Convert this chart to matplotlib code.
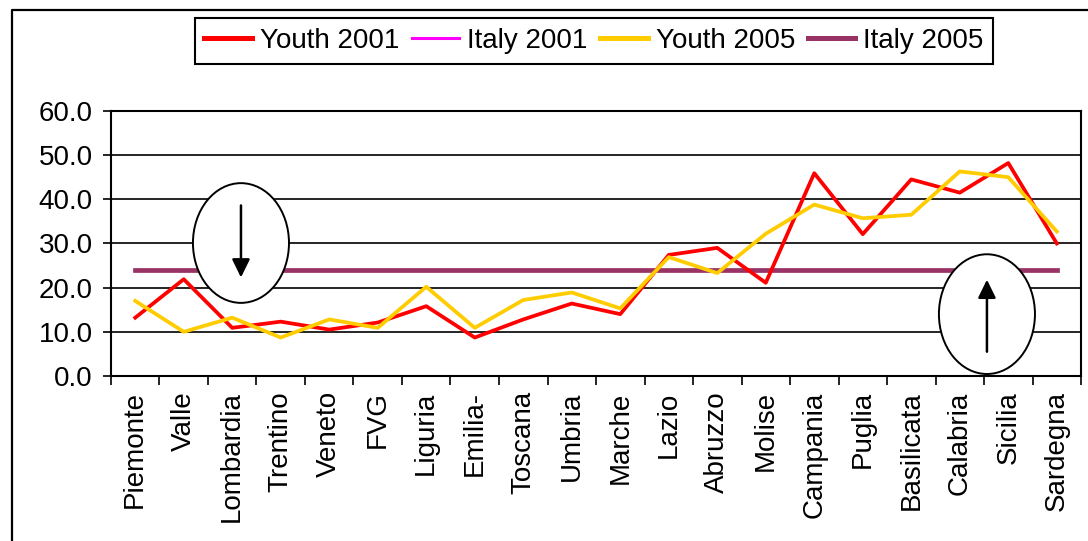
import numpy as np
import matplotlib.pyplot as plt
from matplotlib.patches import Ellipse
from matplotlib.lines import Line2D

plt.rcParams["font.family"] = ["Liberation Sans", "DejaVu Sans"]

regions = ["Piemonte", "Valle", "Lombardia", "Trentino", "Veneto", "FVG",
           "Liguria", "Emilia-", "Toscana", "Umbria", "Marche", "Lazio",
           "Abruzzo", "Molise", "Campania", "Puglia", "Basilicata",
           "Calabria", "Sicilia", "Sardegna"]

youth_2001 = [13.2, 21.9, 10.9, 12.3, 10.5, 12.1, 15.8, 8.7, 12.8, 16.4,
              14.0, 27.4, 29.0, 21.1, 45.9, 32.1, 44.5, 41.5, 48.2, 30.0]
youth_2005 = [17.0, 10.0, 13.2, 8.7, 12.8, 10.9, 20.2, 10.9, 17.2, 18.9,
              15.3, 26.9, 23.3, 32.2, 38.8, 35.7, 36.5, 46.3, 45.0, 32.7]
italy_2001 = 24.1
italy_2005 = 24.1

yticks = [0, 10, 20, 30, 40, 50, 60]

FS = 20

fig = plt.figure(figsize=(10.88, 5.41), dpi=100)
ax = fig.add_axes([0.102, 0.305, 0.8916, 0.49])

x = np.arange(len(regions))

ax.plot(x, [italy_2001] * len(x), color="#FF00FF", lw=1.8, zorder=3)
ax.plot(x, [italy_2005] * len(x), color="#993366", lw=3.4, zorder=3)
ax.plot(x, youth_2001, color="#FF0000", lw=2.7, zorder=4)
ax.plot(x, youth_2005, color="#FFCC00", lw=2.7, zorder=4)

ax.set_xlim(-0.5, len(regions) - 0.5)
ax.set_ylim(0, 60)

# horizontal grid
for v in yticks:
    ax.axhline(v, color="black", lw=1.2, zorder=1)

ax.set_yticks(yticks)
ax.set_yticklabels([f"{v:.1f}" for v in yticks], fontsize=FS)
ax.tick_params(axis="y", direction="out", length=6, width=1.2, pad=7)

# boundary ticks between regions, labels at centres
ax.set_xticks(np.arange(-0.5, len(regions), 1))
ax.set_xticklabels([])
ax.set_xticks(x, minor=True)
ax.set_xticklabels(regions, minor=True, rotation=90, fontsize=FS, va="top")
ax.tick_params(axis="x", which="major", direction="out", length=6.5, width=1.2)
ax.tick_params(axis="x", which="minor", length=0, pad=11)

for s in ax.spines.values():
    s.set_linewidth(1.5)

# circled arrows
for cx, cy, y0, y1 in [(2.18, 30.1, 38.6, 22.3), (17.56, 14.0, 5.5, 21.8)]:
    ax.add_patch(Ellipse((cx, cy), 1.98, 27.1, facecolor="white",
                         edgecolor="black", lw=1.4, zorder=6))
    ax.annotate("", xy=(cx, y1), xytext=(cx, y0),
                arrowprops=dict(arrowstyle="-|>,head_length=0.55,head_width=0.27",
                                color="black", lw=1.8, mutation_scale=20,
                                shrinkA=0, shrinkB=0),
                zorder=7)

handles = [Line2D([], [], color="#FF0000", lw=3.6),
           Line2D([], [], color="#FF00FF", lw=2.2),
           Line2D([], [], color="#FFCC00", lw=3.6),
           Line2D([], [], color="#993366", lw=3.6)]
leg = fig.legend(handles, ["Youth 2001", "Italy 2001", "Youth 2005", "Italy 2005"],
                 loc="center", bbox_to_anchor=(0.546, 0.924), ncol=4,
                 fontsize=FS, frameon=True, fancybox=False, framealpha=1,
                 edgecolor="black", handlelength=1.7, handletextpad=0.3,
                 columnspacing=0.45, borderpad=0.35, borderaxespad=0)
leg.get_frame().set_linewidth(1.5)

# outer frame
fx = 12 / 1088
fy = 1 - 10 / 541
fig.add_artist(Line2D([fx, fx, 1.0], [0.0, fy, fy], color="black", lw=1.6,
                      transform=fig.transFigure))

fig.savefig("out.png", dpi=100)
